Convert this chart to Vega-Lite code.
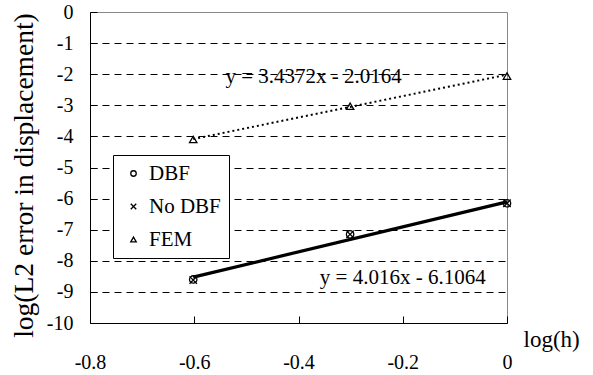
{
  "$schema": "https://vega.github.io/schema/vega-lite/v6.json",
  "autosize": "none",
  "width": 417,
  "height": 311,
  "padding": {"left": 90, "top": 12, "right": 86, "bottom": 52},
  "background": "white",
  "config": {
    "font": "Liberation Serif",
    "view": {"stroke": "#888888", "strokeWidth": 1}
  },
  "datasets": {
    "points": [
      {"series": "DBF", "logh": -0.602, "err": -8.6},
      {"series": "DBF", "logh": -0.301, "err": -7.15},
      {"series": "DBF", "logh": 0, "err": -6.15},
      {"series": "No DBF", "logh": -0.602, "err": -8.62},
      {"series": "No DBF", "logh": -0.301, "err": -7.15},
      {"series": "No DBF", "logh": 0, "err": -6.15},
      {"series": "FEM", "logh": -0.602, "err": -4.1},
      {"series": "FEM", "logh": -0.301, "err": -3.03},
      {"series": "FEM", "logh": 0, "err": -2.06}
    ],
    "fitDBF": [
      {"logh": -0.602, "err": -8.524},
      {"logh": 0, "err": -6.106}
    ],
    "fitFEM": [
      {"logh": -0.602, "err": -4.086},
      {"logh": 0, "err": -2.016}
    ],
    "labels": [
      {"logh": -0.371, "err": -2.09, "text": "y = 3.4372x - 2.0164"},
      {"logh": -0.2, "err": -8.55, "text": "y = 4.016x - 6.1064"}
    ]
  },
  "encoding": {
    "x": {
      "field": "logh", "type": "quantitative",
      "scale": {"domain": [-0.8, 0], "nice": false, "zero": false},
      "axis": {
        "values": [-0.8, -0.6, -0.4, -0.2, 0],
        "tickCount": 20,
        "labelExpr": "datum.value == 0 ? '0' : '-' + format(abs(datum.value), '.1f')",
        "title": "log(h)",
        "titleFont": "Liberation Serif",
        "titleFontSize": 23,
        "titleFontWeight": "normal",
        "titleColor": "black",
        "titleAnchor": "start",
        "titleAlign": "left",
        "titleBaseline": "alphabetic",
        "titleX": 433,
        "titleY": 23,
        "labelFont": "Liberation Serif",
        "labelFontSize": 20,
        "labelColor": "black",
        "labelPadding": 36,
        "labelFlush": false,
        "labelOverlap": false,
        "tickSize": -7,
        "tickColor": "black",
        "domainColor": "black",
        "grid": false
      }
    },
    "y": {
      "field": "err", "type": "quantitative",
      "scale": {"domain": [-10, 0], "nice": false, "zero": false},
      "axis": {
        "values": [-10, -9, -8, -7, -6, -5, -4, -3, -2, -1, 0],
        "tickCount": 20,
        "labelExpr": "datum.value == 0 ? '0' : '-' + abs(datum.value)",
        "title": "log(L2 error in displacement)",
        "titleFont": "Liberation Serif",
        "titleFontSize": 27.5,
        "titleFontWeight": "normal",
        "titleColor": "black",
        "titlePadding": 8,
        "titleY": 163,
        "labelFont": "Liberation Serif",
        "labelFontSize": 20,
        "labelColor": "black",
        "labelPadding": 24,
        "labelOverlap": false,
        "tickSize": -7,
        "tickColor": "black",
        "domainColor": "black",
        "grid": true,
        "gridColor": "black",
        "gridDash": [7, 5],
        "gridWidth": 1,
        "gridOpacity": {"condition": {"test": "datum.value == 0 || datum.value == -10", "value": 0}, "value": 1}
      }
    }
  },
  "layer": [
    {
      "data": {"name": "fitDBF"},
      "mark": {"type": "line", "color": "black", "strokeWidth": 3.2}
    },
    {
      "data": {"name": "fitFEM"},
      "mark": {"type": "line", "color": "black", "strokeWidth": 2, "strokeDash": [2, 3]}
    },
    {
      "data": {"name": "points"},
      "mark": {"type": "point", "filled": false, "color": "black", "strokeWidth": 1.3, "size": 55, "opacity": 1},
      "encoding": {
        "shape": {
          "field": "series", "type": "nominal",
          "scale": {
            "domain": ["DBF", "No DBF", "FEM"],
            "range": ["circle", "M-1,-1L1,1M-1,1L1,-1", "triangle-up"]
          },
          "legend": {
            "title": null,
            "orient": "none",
            "legendX": 23,
            "legendY": 143,
            "direction": "vertical",
            "strokeColor": "black",
            "fillColor": "white",
            "padding": 8,
            "labelFont": "Liberation Serif",
            "labelFontSize": 21,
            "labelColor": "black",
            "symbolSize": 30,
            "symbolStrokeColor": "black",
            "symbolStrokeWidth": 1.3,
            "symbolFillColor": "transparent",
            "rowPadding": 11,
            "labelOffset": 5,
            "symbolOffset": 2
          }
        }
      }
    },
    {
      "data": {"name": "labels"},
      "mark": {"type": "text", "font": "Liberation Serif", "fontSize": 21, "color": "black", "align": "center", "baseline": "middle"},
      "encoding": {
        "text": {"field": "text"}
      }
    }
  ]
}
